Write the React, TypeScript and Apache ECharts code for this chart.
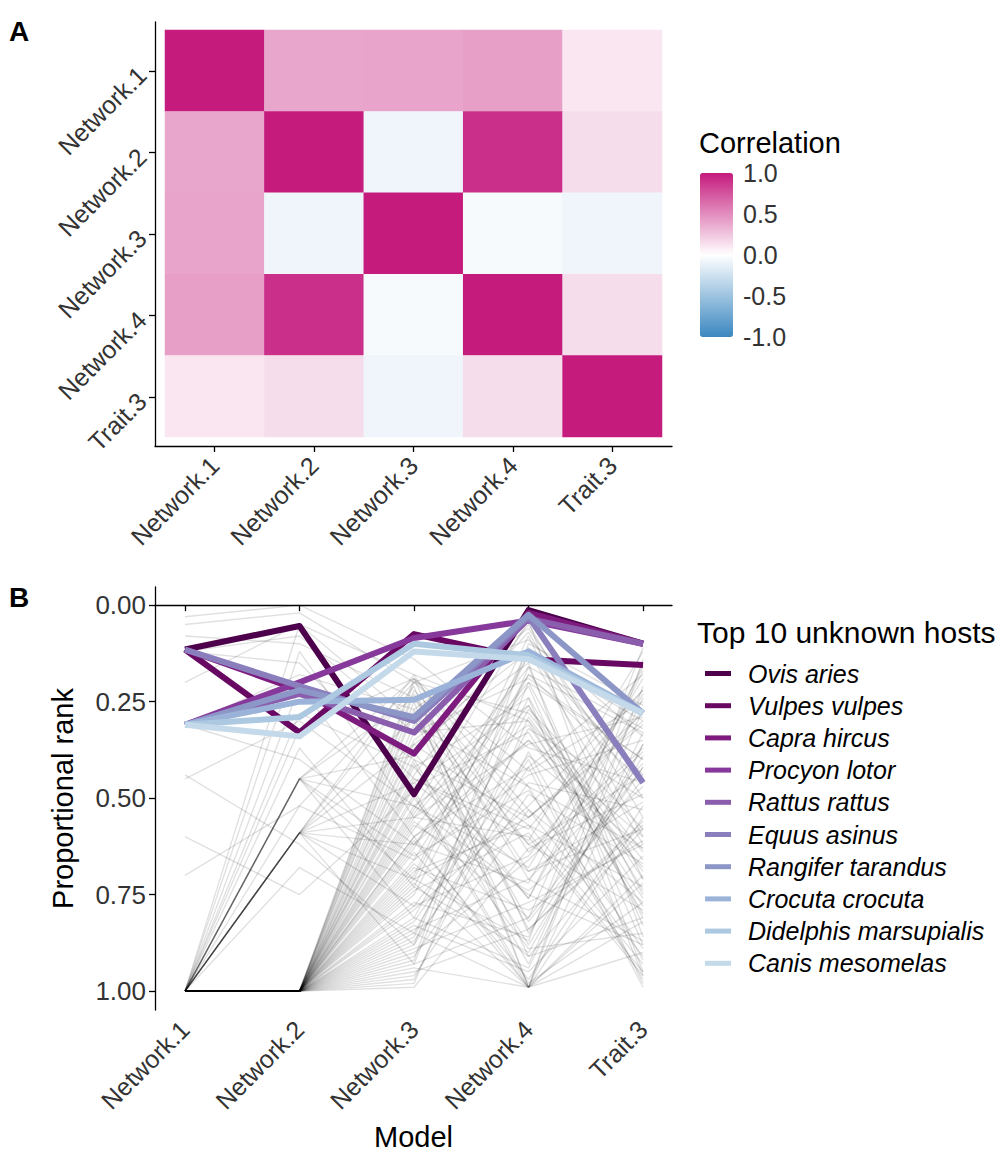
import React, { useEffect, useRef } from 'react';
import * as echarts from 'echarts';

const FONT = '"Liberation Sans", Arial, sans-serif';

// ---------- Panel A: correlation heatmap ----------
const modelNames = ['Network.1', 'Network.2', 'Network.3', 'Network.4', 'Trait.3'];
const corrNetwork1 = [1.0, 0.39, 0.4, 0.42, 0.11];
const corrNetwork2 = [0.39, 1.0, -0.08, 0.91, 0.15];
const corrNetwork3 = [0.4, -0.08, 1.0, -0.04, -0.08];
const corrNetwork4 = [0.42, 0.91, -0.04, 1.0, 0.15];
const corrTrait3 = [0.11, 0.15, -0.08, 0.15, 1.0];
const colorTicks = [1.0, 0.5, 0.0, -0.5, -1.0];

// ---------- Panel B: proportional ranks ----------
const rankTicks = [0, 0.25, 0.5, 0.75, 1];
const hostNames = [
  'Ovis aries', 'Vulpes vulpes', 'Capra hircus', 'Procyon lotor', 'Rattus rattus',
  'Equus asinus', 'Rangifer tarandus', 'Crocuta crocuta', 'Didelphis marsupialis', 'Canis mesomelas',
];
const hostColors = [
  '#4D004B', '#690863', '#7D1C7E', '#86389B', '#8A5DAD',
  '#8B7EBD', '#8C97C7', '#9BB3D8', '#ADC9E1', '#C4DAEA',
];
const ovisAries = [0.115, 0.054, 0.49, 0.013, 0.1];
const vulpesVulpes = [0.115, 0.33, 0.075, 0.14, 0.155];
const capraHircus = [0.115, 0.22, 0.385, 0.02, 0.1];
const procyonLotor = [0.31, 0.2, 0.085, 0.04, 0.1];
const rattusRattus = [0.31, 0.23, 0.33, 0.035, 0.1];
const equusAsinus = [0.115, 0.21, 0.3, 0.03, 0.46];
const rangiferTarandus = [0.31, 0.22, 0.29, 0.025, 0.28];
const crocutaCrocuta = [0.31, 0.25, 0.245, 0.12, 0.28];
const didelphisMarsupialis = [0.31, 0.29, 0.1, 0.13, 0.28];
const canisMesomelas = [0.31, 0.34, 0.12, 0.14, 0.28];

const backgroundHosts: number[][] = [
  [1, 1, 0.22, 0.55, 0.31], [1, 1, 0.28, 0.82, 0.45], [1, 1, 0.35, 0.12, 0.62],
  [1, 1, 0.41, 0.93, 0.27], [1, 1, 0.47, 0.33, 0.78], [1, 1, 0.52, 0.68, 0.19],
  [1, 1, 0.58, 0.21, 0.88], [1, 1, 0.61, 0.97, 0.52], [1, 1, 0.66, 0.44, 0.35],
  [1, 1, 0.7, 0.08, 0.71], [1, 1, 0.74, 0.59, 0.95], [1, 1, 0.77, 0.86, 0.24],
  [1, 1, 0.81, 0.27, 0.58], [1, 1, 0.84, 0.71, 0.41], [1, 1, 0.88, 0.16, 0.83],
  [1, 1, 0.91, 0.49, 0.67], [1, 1, 0.94, 0.99, 0.14], [1, 1, 0.97, 0.38, 0.92],
  [1, 1, 0.99, 0.63, 0.49], [1, 1, 0.25, 0.99, 0.72], [1, 1, 0.31, 0.47, 0.97],
  [1, 1, 0.38, 0.76, 0.17], [1, 1, 0.44, 0.05, 0.55], [1, 1, 0.5, 0.89, 0.85],
  [1, 1, 0.55, 0.36, 0.29], [1, 1, 0.63, 0.13, 0.44], [1, 1, 0.68, 0.79, 0.61],
  [1, 1, 0.72, 0.99, 0.9], [1, 1, 0.79, 0.52, 0.22], [1, 1, 0.86, 0.24, 0.74],
  [1, 1, 0.9, 0.66, 0.38], [1, 1, 0.95, 0.84, 0.57], [1, 1, 0.6, 0.42, 0.99],
  [1, 1, 0.45, 0.61, 0.12], [1, 1, 0.33, 0.3, 0.8], [1, 1, 0.75, 0.18, 0.33],
  [1, 1, 0.83, 0.95, 0.65], [1, 1, 0.57, 0.74, 0.47], [1, 1, 0.92, 0.1, 0.26],
  [1, 1, 0.69, 0.57, 0.93], [1, 1, 0.4, 0.88, 0.39], [1, 1, 0.98, 0.29, 0.69],
  [1, 1, 0.64, 0.99, 0.21], [1, 1, 0.53, 0.04, 0.86], [1, 1, 0.87, 0.46, 0.53],
  [1, 1, 0.2, 0.28, 0.64], [1, 1, 0.23, 0.71, 0.87], [1, 1, 0.19, 0.43, 0.25],
  [1, 1, 0.27, 0.06, 0.5], [1, 1, 0.36, 0.57, 0.73], [1, 1, 0.42, 0.24, 0.96],
  [1, 1, 0.49, 0.99, 0.36], [1, 1, 0.56, 0.81, 0.15], [1, 1, 0.62, 0.35, 0.6],
  [1, 1, 0.67, 0.91, 0.81], [1, 1, 0.73, 0.11, 0.45], [1, 1, 0.78, 0.65, 0.27],
  [1, 1, 0.82, 0.4, 0.98], [1, 1, 0.89, 0.77, 0.62], [1, 1, 0.93, 0.2, 0.4],
  [1, 1, 0.96, 0.53, 0.77], [1, 1, 0.6, 0.99, 0.55], [1, 1, 0.85, 0.99, 0.82],
  [1, 1, 0.71, 0.87, 0.11], [1, 1, 0.46, 0.69, 0.58], [1, 1, 0.54, 0.16, 0.32],
  [1, 0.59, 0.18, 0.64, 0.37], [1, 0.59, 0.29, 0.91, 0.58], [1, 0.59, 0.46, 0.26, 0.81],
  [1, 0.59, 0.62, 0.72, 0.16], [1, 0.59, 0.78, 0.39, 0.63], [1, 0.59, 0.93, 0.81, 0.42],
  [1, 0.59, 0.36, 0.15, 0.95], [1, 0.59, 0.71, 0.55, 0.28], [1, 0.59, 0.21, 0.99, 0.7],
  [1, 0.59, 0.55, 0.6, 0.96],
  [1, 0.45, 0.24, 0.69, 0.51], [1, 0.45, 0.52, 0.31, 0.76], [1, 0.45, 0.81, 0.94, 0.33],
  [1, 0.45, 0.39, 0.07, 0.6], [1, 0.45, 0.65, 0.48, 0.89], [1, 0.45, 0.19, 0.85, 0.42],
  [1, 0.45, 0.71, 0.13, 0.3],
  [1, 0.28, 0.42, 0.76, 0.23], [1, 0.21, 0.6, 0.35, 0.68], [1, 0.32, 0.19, 0.53, 0.91],
  [1, 0.05, 0.3, 0.62, 0.44], [1, 0.12, 0.55, 0.2, 0.75], [1, 0.37, 0.73, 0.9, 0.36],
  [1, 0.52, 0.2, 0.47, 0.63], [1, 0.68, 0.85, 0.32, 0.5],
  [0.03, 0.0, 0.14, 0.37, 0.46], [0.05, 0.02, 0.2, 0.09, 0.34], [0.12, 0.15, 0.45, 0.58, 0.22],
  [0.31, 0.4, 0.62, 0.26, 0.71], [0.31, 0.18, 0.27, 0.84, 0.56], [0.12, 0.08, 0.33, 0.19, 0.4],
  [0.6, 0.75, 0.48, 0.98, 0.77], [0.44, 0.62, 0.88, 0.42, 0.18], [0.08, 0.1, 0.24, 0.62, 0.79],
  [0.2, 0.05, 0.18, 0.3, 0.66], [0.45, 0.3, 0.52, 0.75, 0.88], [0.7, 0.52, 0.66, 0.18, 0.46],
  [0.31, 0.21, 0.4, 0.55, 0.3],
];

export default function App() {
  const ref = useRef<HTMLDivElement>(null);

  useEffect(() => {
    document.body.style.margin = '0';
    const chart = echarts.init(ref.current!, null, { renderer: 'svg' });

    const corrRows = [corrNetwork1, corrNetwork2, corrNetwork3, corrNetwork4, corrTrait3];
    const heatData: number[][] = [];
    corrRows.forEach((row, yi) => row.forEach((v, xi) => heatData.push([xi, yi, v])));

    const hostSeriesValues = [
      ovisAries, vulpesVulpes, capraHircus, procyonLotor, rattusRattus,
      equusAsinus, rangiferTarandus, crocutaCrocuta, didelphisMarsupialis, canisMesomelas,
    ];
    const positions = [1, 2, 3, 4, 5];
    const toPts = (vals: number[]) => vals.map((v, i) => [positions[i], v]);

    const axisLine = { show: true, lineStyle: { color: '#000', width: 1.3 } };
    const tickStyle = { show: true, length: 6, lineStyle: { color: '#000', width: 1.3 }, customValues: positions };
    const labelBase = { fontSize: 25, color: '#333', fontFamily: FONT };

    const modelLabel = (v: number) => modelNames[Math.round(v) - 1] ?? '';

    // colorbar geometry
    const cbTop = 173;
    const cbHeight = 164;
    const cbLeft = 700;
    const cbWidth = 33;
    const cbY = (v: number) => cbTop + ((1 - v) / 2) * cbHeight;

    const graphics: any[] = [
      { type: 'text', left: 9, top: 17, style: { text: 'A', font: `bold 28px ${FONT}`, fill: '#000' } },
      { type: 'text', left: 9, top: 583, style: { text: 'B', font: `bold 28px ${FONT}`, fill: '#000' } },
      { type: 'text', left: 699, top: 128, style: { text: 'Correlation', font: `29px ${FONT}`, fill: '#000', lineHeight: 29 } },
      { type: 'text', left: 697, top: 617, style: { text: 'Top 10 unknown hosts', font: `30px ${FONT}`, fill: '#000' } },
    ];
    colorTicks.forEach((t) => {
      graphics.push({
        type: 'text',
        x: 743,
        y: cbY(t),
        style: { text: t.toFixed(1), font: `25px ${FONT}`, fill: '#333', verticalAlign: 'middle', align: 'left', lineHeight: 25 },
      });
      if (t !== 1 && t !== -1) {
        graphics.push({ type: 'line', shape: { x1: cbLeft, y1: cbY(t), x2: cbLeft + 6, y2: cbY(t) }, style: { stroke: 'rgba(255,255,255,0.8)', lineWidth: 1 } });
        graphics.push({ type: 'line', shape: { x1: cbLeft + cbWidth - 6, y1: cbY(t), x2: cbLeft + cbWidth, y2: cbY(t) }, style: { stroke: 'rgba(255,255,255,0.8)', lineWidth: 1 } });
      }
    });

    const series: any[] = [
      {
        type: 'heatmap',
        xAxisIndex: 0,
        yAxisIndex: 0,
        data: heatData,
        itemStyle: { borderWidth: 0 },
        emphasis: { disabled: true },
        silent: true,
      },
    ];
    backgroundHosts.forEach((vals, i) => {
      series.push({
        type: 'line',
        name: 'bg' + i,
        xAxisIndex: 2,
        yAxisIndex: 2,
        data: toPts(vals),
        symbol: 'none',
        silent: true,
        z: 1,
        lineStyle: { color: 'rgba(0,0,0,0.12)', width: 1.4 },
        emphasis: { disabled: true },
      });
    });
    hostSeriesValues.forEach((vals, i) => {
      series.push({
        type: 'line',
        name: hostNames[i],
        xAxisIndex: 2,
        yAxisIndex: 2,
        data: toPts(vals),
        symbol: 'none',
        z: 3 + i,
        color: hostColors[i],
        lineStyle: { color: hostColors[i], width: 6, join: 'round', cap: 'butt' },
        emphasis: { disabled: true },
      });
    });

    const rotatedX = { ...labelBase, rotate: 45, margin: 15, align: 'right', verticalAlign: 'middle', customValues: positions, formatter: modelLabel };

    const option: any = {
      animation: false,
      backgroundColor: '#fff',
      textStyle: { fontFamily: FONT },
      grid: [
        { left: 165, top: 30, width: 497, height: 407, containLabel: false, outerBoundsMode: 'none' },
        { left: 155, top: 22, width: 517, height: 424, containLabel: false, outerBoundsMode: 'none' },
        { left: 155, top: 587, width: 517, height: 423, containLabel: false, outerBoundsMode: 'none' },
      ],
      xAxis: [
        { type: 'category', gridIndex: 0, data: modelNames, show: false },
        {
          type: 'value', gridIndex: 1, min: 0.4, max: 5.6,
          axisLine, axisTick: tickStyle, splitLine: { show: false },
          axisLabel: rotatedX,
        },
        {
          type: 'value', gridIndex: 2, min: 0.738, max: 5.253,
          axisLine, axisTick: tickStyle, splitLine: { show: false },
          axisLabel: rotatedX,
          name: 'Model', nameLocation: 'middle', nameGap: 112,
          nameTextStyle: { fontSize: 29, color: '#000', fontFamily: FONT },
        },
      ],
      yAxis: [
        { type: 'category', gridIndex: 0, data: modelNames, inverse: true, show: false },
        {
          type: 'value', gridIndex: 1, min: 0.4, max: 5.6, inverse: true,
          axisLine, axisTick: tickStyle, splitLine: { show: false },
          axisLabel: { ...labelBase, rotate: 45, margin: 13, customValues: positions, formatter: modelLabel },
        },
        {
          type: 'value', gridIndex: 2, min: -0.047, max: 1.049, inverse: true,
          axisLine, splitLine: { show: false },
          axisTick: { ...tickStyle, customValues: rankTicks },
          axisLabel: { ...labelBase, fontSize: 26, margin: 9, customValues: rankTicks, formatter: (v: number) => v.toFixed(2) },
          name: 'Proportional rank', nameLocation: 'middle', nameGap: 78, nameRotate: 90,
          nameTextStyle: { fontSize: 29, color: '#000', fontFamily: FONT },
        },
      ],
      visualMap: {
        type: 'continuous',
        seriesIndex: 0,
        min: -1,
        max: 1,
        calculable: false,
        hoverLink: false,
        show: true,
        left: cbLeft,
        top: cbTop,
        itemWidth: cbWidth,
        itemHeight: cbHeight,
        padding: 0,
        text: null,
        showLabel: false,
        inRange: { color: ['#3B87C0', '#FFFFFF', '#C51B7D'] },
      },
      legend: {
        data: hostNames,
        orient: 'vertical',
        left: 705,
        top: 661,
        padding: 0,
        icon: 'rect',
        itemWidth: 26,
        itemHeight: 5,
        itemGap: 7.2,
        selectedMode: false,
        textStyle: {
          fontSize: 25, fontStyle: 'italic', color: '#000', fontFamily: FONT,
          lineHeight: 25, padding: [0, 0, 0, 12],
        },
      },
      graphic: graphics,
      series,
    };

    chart.setOption(option);
    return () => chart.dispose();
  }, []);

  return <div ref={ref} style={{ width: 997, height: 1153 }} />;
}
